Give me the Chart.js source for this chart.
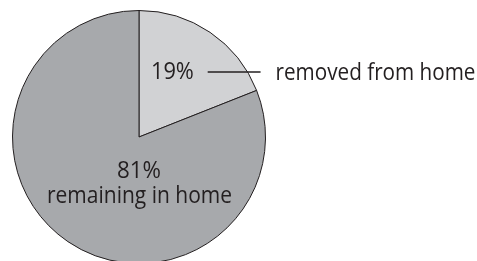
<!DOCTYPE html>
<html>
<head>
<meta charset="utf-8">
<script src="https://cdn.jsdelivr.net/npm/chart.js@4"></script>
<style>
  html, body { margin: 0; padding: 0; background: #fff; overflow: hidden; }
  #wrap { width: 477px; height: 274px; }
</style>
</head>
<body>
<div id="wrap"><canvas id="chartcanvas"></canvas></div>
<script>
const categories = ["removed from home", "remaining in home"];
const shares = [19, 81];
const sliceColors = ["#d1d2d4", "#a7a9ac"];

const ink = "#231f20";
const labelFont = "24px 'Open Sans'";

// draws the percentage labels and the leader line
// (maxWidth squeezes Open Sans toward the narrower original face)
const sliceLabels = {
  id: "sliceLabels",
  afterDatasetsDraw(chart) {
    const c = chart.ctx;
    const arcs = chart.getDatasetMeta(0).data;
    const cx = arcs[0].x, cy = arcs[0].y, r = arcs[0].outerRadius;
    c.save();
    c.fillStyle = ink;
    c.font = labelFont;
    c.textBaseline = "alphabetic";

    // small slice: value inside, name outside with a line
    c.textAlign = "center";
    c.fillText(shares[0] + "%", cx + r * 0.264, cy - r * 0.457, 43);
    c.strokeStyle = ink;
    c.lineWidth = 1.6;
    c.beginPath();
    c.moveTo(cx + r * 0.543, cy - r * 0.514);
    c.lineTo(cx + r * 0.961, cy - r * 0.514);
    c.stroke();
    c.textAlign = "left";
    c.fillText(categories[0], cx + r * 1.079, cy - r * 0.447, 200);

    // big slice: value and name below the centre
    c.textAlign = "center";
    c.fillText(shares[1] + "%", cx, cy + r * 0.327, 44);
    c.fillText(categories[1], cx + 0.5, cy + r * 0.52, 185);
    c.restore();
  },
};

const config = {
  type: "pie",
  data: {
    labels: categories,
    datasets: [
      {
        data: shares,
        backgroundColor: sliceColors,
        borderColor: ink,
        borderWidth: 1,
      },
    ],
  },
  options: {
    responsive: true,
    maintainAspectRatio: false,
    animation: false,
    events: [],
    layout: {
      padding: { top: 10, bottom: 10, left: 12, right: 211 },
    },
    plugins: {
      legend: { display: false },
      tooltip: { enabled: false },
    },
  },
  plugins: [sliceLabels],
};

const chart = new Chart(document.getElementById("chartcanvas"), config);
</script>
</body>
</html>
